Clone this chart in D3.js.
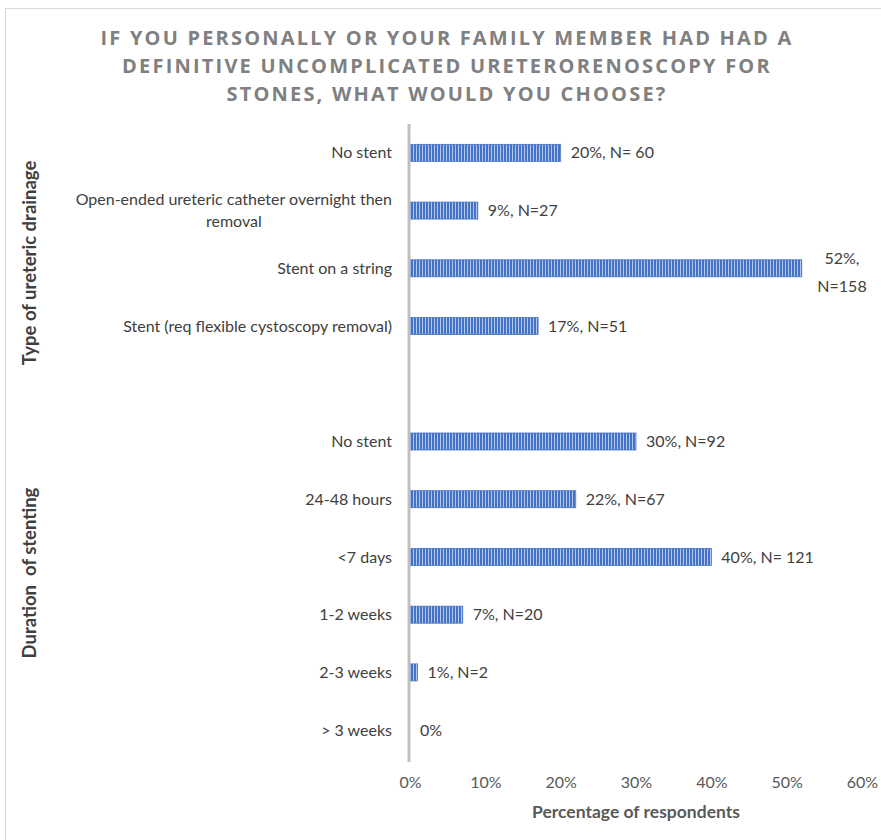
<!DOCTYPE html>
<meta charset="utf-8">
<style>
body { margin: 0; background: #fff; }
text { font-family: Lato, "Open Sans", sans-serif; }
.title { font-family: "Open Sans", sans-serif; font-weight: 700; fill: #808080; letter-spacing: 2.2px; }
.cat { font-size: 16px; fill: #404040; }
.lbl { font-size: 16px; fill: #404040; }
.tick text { font-size: 16px; fill: #595959; font-family: Lato, sans-serif; }
</style>
<svg width="881" height="840">
<defs>
  <pattern id="stripes" patternUnits="userSpaceOnUse" width="3" height="10">
    <rect width="3" height="10" fill="#4472c4"></rect>
    <rect x="2" width="1" height="10" fill="#b4c7ee"></rect>
  </pattern>
</defs>
</svg>
<script src="https://d3js.org/d3.v7.min.js"></script>
<script>

var titleLines = ["IF YOU PERSONALLY OR YOUR FAMILY MEMBER HAD HAD A",
                  "DEFINITIVE UNCOMPLICATED URETERORENOSCOPY FOR",
                  "STONES, WHAT WOULD YOU CHOOSE?"];

var drainageCats = ["No stent", "Open-ended ureteric catheter overnight then\nremoval",
                    "Stent on a string", "Stent (req flexible cystoscopy removal)"];
var drainageVals = [20, 9, 52, 17];
var drainageLabels = ["20%, N= 60", "9%, N=27", "52%,\nN=158", "17%, N=51"];

var durationCats = ["No stent", "24-48 hours", "<7 days", "1-2 weeks", "2-3 weeks", "> 3 weeks"];
var durationVals = [30, 22, 40, 7, 1, 0];
var durationLabels = ["30%, N=92", "22%, N=67", "40%, N= 121", "7%, N=20", "1%, N=2", "0%"];

var xTicks = [0, 10, 20, 30, 40, 50, 60];

var rows = [];
drainageCats.forEach(function(c, i) {
  rows.push({key: "d" + i, name: c, value: drainageVals[i], label: drainageLabels[i]});
});
rows.push({key: "gap", name: "", value: null, label: ""});
durationCats.forEach(function(c, i) {
  rows.push({key: "s" + i, name: c, value: durationVals[i], label: durationLabels[i]});
});

var svg = d3.select("svg");

// frame
svg.append("rect").attr("x", 5.5).attr("y", 8.5).attr("width", 1000).attr("height", 1000)
  .attr("fill", "none").attr("stroke", "#d9d9d9");

svg.append("g").selectAll("text").data(titleLines).enter().append("text")
  .attr("class", "title")
  .attr("x", 447).attr("y", function(d, i) { return 45 + i * 28; })
  .attr("text-anchor", "middle").attr("font-size", 20)
  .text(function(d) { return d; });

var x = d3.scaleLinear().domain([0, 60]).range([410, 862]);
var y = d3.scalePoint().domain(rows.map(function(d) { return d.key; }))
  .range([124, 759]).padding(0.5);
var barH = 17;

// x tick labels
svg.append("g")
  .attr("transform", "translate(0,772)")
  .call(d3.axisBottom(x).tickValues(xTicks).tickSize(0).tickPadding(5)
    .tickFormat(function(d) { return d + "%"; }))
  .call(function(g) { g.select(".domain").remove(); });

// bars
var data = rows.filter(function(d) { return d.value !== null; });
svg.append("g").selectAll("rect").data(data.filter(function(d) { return d.value > 0; }))
  .enter().append("rect")
  .attr("x", x(0))
  .attr("y", function(d) { return y(d.key) - barH / 2; })
  .attr("width", function(d) { return x(d.value) - x(0); })
  .attr("height", barH)
  .attr("fill", "url(#stripes)")
  .attr("stroke", "#4472c4").attr("stroke-width", 0.8);

// vertical axis line
svg.append("line").attr("x1", x(0) - 1).attr("x2", x(0) - 1)
  .attr("y1", 124).attr("y2", 762)
  .attr("stroke", "#bfbfbf").attr("stroke-width", 3);

// category labels (wrapped lines centred on each other, block right-aligned)
var catG = svg.append("g");
data.forEach(function(d) {
  var lines = d.name.split("\n");
  var t = catG.append("text").attr("class", "cat");
  if (lines.length === 1) {
    t.attr("x", 392).attr("y", y(d.key)).attr("dy", "0.35em")
      .attr("text-anchor", "end").text(d.name);
  } else {
    t.attr("text-anchor", "middle");
    var spans = lines.map(function(l, i) {
      return t.append("tspan").attr("y", y(d.key) - 11 + i * 22).attr("dy", "0.35em").text(l);
    });
    var w = d3.max(spans, function(s) { return s.node().getComputedTextLength(); });
    spans.forEach(function(s) { s.attr("x", 392 - w / 2); });
  }
});

// value labels
var lblG = svg.append("g");
data.forEach(function(d) {
  var lines = d.label.split("\n");
  var t = lblG.append("text").attr("class", "lbl");
  if (lines.length === 1) {
    t.attr("x", x(d.value) + 10).attr("y", y(d.key)).attr("dy", "0.35em").text(d.label);
  } else {
    t.attr("text-anchor", "middle");
    lines.forEach(function(l, i) {
      t.append("tspan").attr("x", 842).attr("y", y(d.key) - 10 + i * 28)
        .attr("dy", "0.35em").text(l);
    });
  }
});

// axis titles
svg.append("text").attr("x", 636).attr("y", 818).attr("text-anchor", "middle")
  .attr("font-size", 17.5).attr("font-weight", 700).attr("fill", "#595959")
  .text("Percentage of respondents");

svg.append("text").attr("transform", "translate(36,263) rotate(-90)")
  .attr("text-anchor", "middle").attr("font-size", 18.5).attr("font-weight", 700)
  .attr("fill", "#404040").text("Type of ureteric drainage");

svg.append("text").attr("transform", "translate(36,573) rotate(-90)")
  .attr("text-anchor", "middle").attr("font-size", 18.5).attr("font-weight", 700)
  .attr("fill", "#404040").attr("xml:space", "preserve").style("white-space", "pre")
  .text("Duration  of stenting");

</script>
